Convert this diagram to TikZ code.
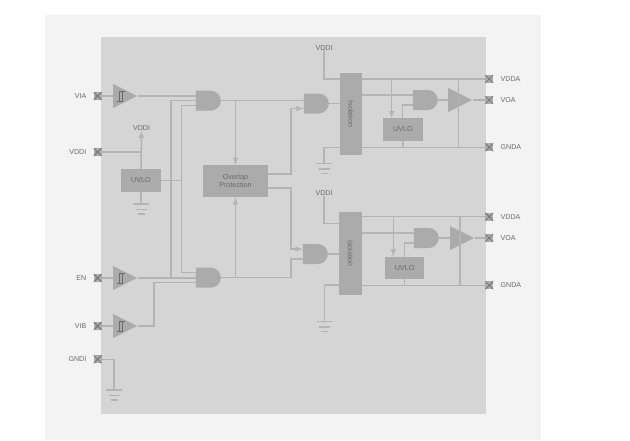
\documentclass[tikz,border=0pt]{standalone}
\usepackage{fontspec}
\setmainfont{Liberation Sans}
\usetikzlibrary{shapes.geometric,shapes.gates.logic.US,calc}
\definecolor{outerc}{HTML}{F3F3F3}
\definecolor{innerc}{HTML}{D5D5D5}
\definecolor{wirec}{HTML}{B4B4B4}
\definecolor{boxc}{HTML}{ABABAB}
\definecolor{textc}{HTML}{6A6A6A}
\tikzset{
    wire/.style={draw=wirec,line width=1.5pt},
    feed/.style={wire,->,>=latex},
    blockbox/.style={fill=boxc,inner sep=0pt,text=textc,font=\fontsize{7.2}{8.6}\selectfont,align=center},
    tag/.style={text=textc,font=\fontsize{7.1}{8}\selectfont,inner sep=0pt},
    padbox/.style={fill=boxc,minimum size=8pt,inner sep=0pt,path picture={
        \draw [textc,line width=.6pt] (path picture bounding box.north west) -- (path picture bounding box.south east)
            (path picture bounding box.north east) -- (path picture bounding box.south west);}},
    andgate/.style={and gate US,fill=boxc,draw=none,minimum width=23pt,minimum height=20pt,inner sep=0pt,
        logic gate inputs=nnn,logic gate input sep=5pt},
    buffer/.style={isosceles triangle,isosceles triangle stretches,fill=boxc,shape border rotate=0,
        minimum width=24pt,minimum height=24pt,inner sep=0pt,anchor=west}
}
\newcommand{\schmitt}[1]{\draw [textc,line width=.5pt] ($(#1.west)+(4,5.5)$) -- ++(5,0) -- ++(0,-10.5) ++(-3,0) -- ++(5.5,0) ++(-5.5,0) -- ++(0,10.5);}
\newcommand{\groundsym}[1]{\draw [wire] ($(#1)+(-8,0)$) -- ++(16,0) ($(#1)+(-5.5,5.5)$) -- ++(11,0) ($(#1)+(-3.5,10)$) -- ++(7,0);}
\begin{document}
    \begin{tikzpicture}[x=1pt,y=-1pt]
        \useasboundingbox (0,0) rectangle (630,440);
        \fill [outerc] (45,15) rectangle (541,440);
        \fill [innerc] (101,37) rectangle (486,414);

        \node [padbox] (padVIA) at (97.6,96) {};
        \node [padbox] (padVDDI) at (97.6,152) {};
        \node [padbox] (padEN) at (97.6,278) {};
        \node [padbox] (padVIB) at (97.6,326) {};
        \node [padbox] (padGNDI) at (97.6,359.3) {};
        \node [tag,anchor=east] at (86.5,96) {VIA};
        \node [tag,anchor=east] at (86.5,152) {VDDI};
        \node [tag,anchor=east] at (86.5,278) {EN};
        \node [tag,anchor=east] at (86.5,326) {VIB};
        \node [tag,anchor=east] at (86.5,359.3) {GNDI};

        \node [buffer] (bufA) at (113,96) {};
        \node [buffer] (bufEN) at (113,278) {};
        \node [buffer] (bufB) at (113,326) {};

        \node [andgate] (andA) at (207.5,100.7) {};
        \node [andgate] (andB) at (207.5,277.7) {};
        \node [andgate,minimum height=19pt] (andC) at (315.5,103.5) {};
        \node [andgate,minimum height=19pt] (andD) at (314.5,254) {};
        \node [andgate] (andE) at (424.5,100) {};
        \node [andgate] (andF) at (425.5,238) {};

        \node [blockbox,minimum width=40pt,minimum height=23pt] (uvloA) at (141,180.5) {UVLO};
        \node [blockbox,minimum width=65pt,minimum height=32pt] (overlap) at (235.5,181) {Overlap\\Protection};
        \node [blockbox,minimum width=40pt,minimum height=22.4pt] (uvloB) at (403,129.5) {UVLO};
        \node [blockbox,minimum width=39.3pt,minimum height=22.3pt] (uvloC) at (404.6,267.8) {UVLO};
        \node [blockbox,minimum width=22pt,minimum height=82.3pt] (isoA) at (351,113.9) {};
        \node [blockbox,minimum width=22.7pt,minimum height=83pt] (isoB) at (350.3,253.5) {};
        \node [tag,rotate=-90] at (isoA.center) {Isolation};
        \node [tag,rotate=-90] at (isoB.center) {Isolation};

        \node [tag] (vddiL) at (141.5,128) {VDDI};
        \node [tag] (vddiT) at (324,47.7) {VDDI};
        \node [tag] (vddiM) at (324,193) {VDDI};

        \node [padbox] (padVDDAa) at (489.3,79) {};
        \node [padbox] (padVOAa) at (489.3,100) {};
        \node [padbox] (padGNDAa) at (489.3,147.3) {};
        \node [padbox] (padVDDAb) at (489.3,216.7) {};
        \node [padbox] (padVOAb) at (489.3,238) {};
        \node [padbox] (padGNDAb) at (489.3,285.3) {};
        \node [tag,anchor=west] at (500.5,79) {VDDA};
        \node [tag,anchor=west] at (500.5,100) {VOA};
        \node [tag,anchor=west] at (500.5,147.3) {GNDA};
        \node [tag,anchor=west] at (500.5,216.7) {VDDA};
        \node [tag,anchor=west] at (500.5,238) {VOA};
        \node [tag,anchor=west] at (500.5,285.3) {GNDA};

        \node [buffer] (drvA) at (448,100) {};
        \node [buffer] (drvB) at (450,238) {};

        \coordinate (gndL) at (141,204);
        \coordinate (gndI) at (114,390);
        \coordinate (gndT) at (324,163.3);
        \coordinate (gndM) at (324.5,321.7);

        \draw [wire] (padVIA) -- (bufA.west);
        \draw [wire] (bufA.east) -- (bufA.east -| andA.input 1);
        \draw [wire] (padVDDI) -- (padVDDI -| uvloA.center);
        \draw [feed] (uvloA.north) -- (vddiL.south);
        \draw [wire] (uvloA.south) -- (gndL);
        \groundsym{gndL}
        \draw [wire] (uvloA.east) -- (181.7,180.5);
        \draw [wire] (andA.input 3) -| (181.7,180.5) |- (andB.input 1);
        \draw [wire] (andA.input 2) -| (171,277.7);
        \draw [wire] (padEN) -- (bufEN.west);
        \draw [wire] (bufEN.east) -- (bufEN.east -| andB.input 2);
        \draw [wire] (padVIB) -- (bufB.west);
        \draw [wire] (bufB.east) -| (154,300) |- (andB.input 3);
        \draw [wire] (padGNDI) -| (gndI);
        \groundsym{gndI}
        \schmitt{bufA} \schmitt{bufEN} \schmitt{bufB}

        \draw [wire] (andA.output) -- (andA.output -| andC.input 1);
        \draw [feed] (overlap.north |- andA.output) -- (overlap.north);
        \draw [feed] (overlap.south |- andB.output) -- (overlap.south);
        \draw [wire] (andB.output) -| (291,265) |- (andD.input 3);
        \draw [feed] (268,174) -| (291,140) |- (andC.input 3);
        \draw [feed] (268,188) -| (291,220) |- (andD.input 1);
        \draw [wire] (andC.output) -- (andC.output -| isoA.west);
        \draw [wire] (andD.output) -- (andD.output -| isoB.west);

        \draw [wire] (vddiT.south) |- (340,79);
        \draw [wire] (340,147.3) -| (gndT);
        \groundsym{gndT}
        \draw [wire] (padVDDAa -| isoA.east) -- (padVDDAa);
        \draw [wire] (padGNDAa -| isoA.east) -- (padGNDAa);
        \draw [wire] (andE.input 1 -| isoA.east) -- (andE.input 1);
        \draw [feed] (391.7,79) -- (391.7,118.3);
        \draw [wire] (402.7,118.3) |- (andE.input 3);
        \draw [wire] (uvloB.south) -- (uvloB.south |- padGNDAa);
        \draw [wire] (andE.output) -- (drvA.west);
        \draw [wire] (drvA.east) -- (padVOAa);
        \draw [wire] (458.3,79) -- (458.3,147.3);

        \draw [wire] (vddiM.south) |- (339,223.3);
        \draw [wire] (339,285) -| (gndM);
        \groundsym{gndM}
        \draw [wire] (padVDDAb -| isoB.east) -- (padVDDAb);
        \draw [wire] (padGNDAb -| isoB.east) -- (padGNDAb);
        \draw [wire] (andF.input 1 -| isoB.east) -- (andF.input 1);
        \draw [feed] (393.3,216.7) -- (393.3,256.7);
        \draw [wire] (404.3,256.7) |- (andF.input 3);
        \draw [wire] (uvloC.south) -- (uvloC.south |- padGNDAb);
        \draw [wire] (andF.output) -- (drvB.west);
        \draw [wire] (drvB.east) -- (padVOAb);
        \draw [wire] (460,216.7) -- (460,285.3);
    \end{tikzpicture}
\end{document}
